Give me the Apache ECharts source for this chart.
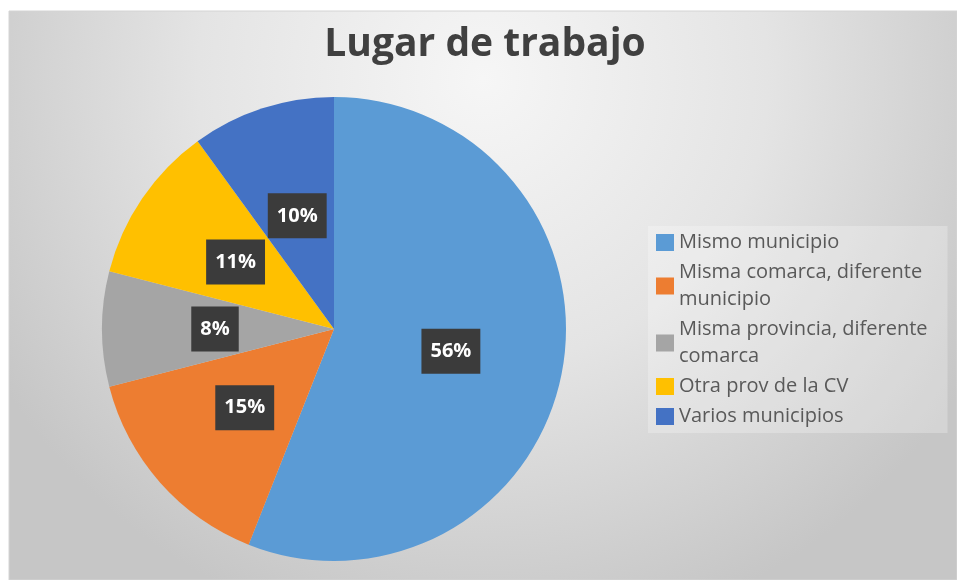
<!DOCTYPE html>
<html>
<head>
<meta charset="utf-8">
<script src="https://cdn.jsdelivr.net/npm/echarts@6/dist/echarts.min.js"></script>
<style>
  html, body { margin: 0; padding: 0; background: #fff; }
  #chart { width: 957px; height: 580px; }
</style>
</head>
<body>
<div id="chart"></div>
<script>
// lugar de trabajo, porcentajes
var categorias = [
    'Mismo municipio',
    'Misma comarca, diferente municipio',
    'Misma provincia, diferente comarca',
    'Otra prov de la CV',
    'Varios municipios'
];
var valores = [56, 15, 8, 11, 10];
var colores = ['#5B9BD5', '#ED7D31', '#A5A5A5', '#FFC000', '#4472C4'];

var myChart = echarts.init(document.getElementById('chart'));

var datos = categorias.map(function (c, i) {
    return { name: c, value: valores[i] };
});

option = {
    color: colores,
    animation: false,
    graphic: [
        {
            type: 'rect',
            z: -10,
            shape: { x: 9, y: 11, width: 948, height: 569 },
            style: {
                stroke: '#d4d4d4',
                lineWidth: 1,
                fill: {
                    type: 'radial', x: 0.5, y: 0.12, r: 1.0,
                    colorStops: [
                        { offset: 0, color: '#f6f6f6' },
                        { offset: 0.5, color: '#e4e4e4' },
                        { offset: 1, color: '#c6c6c6' }
                    ]
                }
            }
        }
    ],
    title: {
        text: 'Lugar de trabajo',
        left: 480,
        textAlign: 'center',
        top: 20,
        textStyle: {
            fontFamily: 'Open Sans',
            fontWeight: 'bold',
            fontSize: 39,
            color: '#404040'
        }
    },
    legend: {
        orient: 'vertical',
        left: 648,
        top: 226,
        itemWidth: 18,
        itemHeight: 17,
        itemGap: 3,
        icon: 'rect',
        backgroundColor: 'rgba(255,255,255,0.25)',
        padding: [3, 20, 3, 8],
        formatter: function (name) {
            return name.replace('diferente ', 'diferente\n');
        },
        textStyle: {
            fontFamily: 'Open Sans',
            fontSize: 20,
            lineHeight: 27,
            color: '#595959'
        }
    },
    series: [
        {
            type: 'pie',
            center: [334, 329],
            radius: ['0%', 232],
            startAngle: 90,
            clockwise: true,
            data: datos,
            itemStyle: { borderWidth: 0 },
            label: {
                position: 'inside',
                formatter: '{c}%',
                color: '#ffffff',
                fontFamily: 'Open Sans',
                fontWeight: 'bold',
                fontSize: 20,
                backgroundColor: '#3b3b3b',
                padding: [13, 9, 12, 9]
            },
            labelLine: { show: false }
        }
    ]
};

myChart.setOption(option);
</script>
</body>
</html>
